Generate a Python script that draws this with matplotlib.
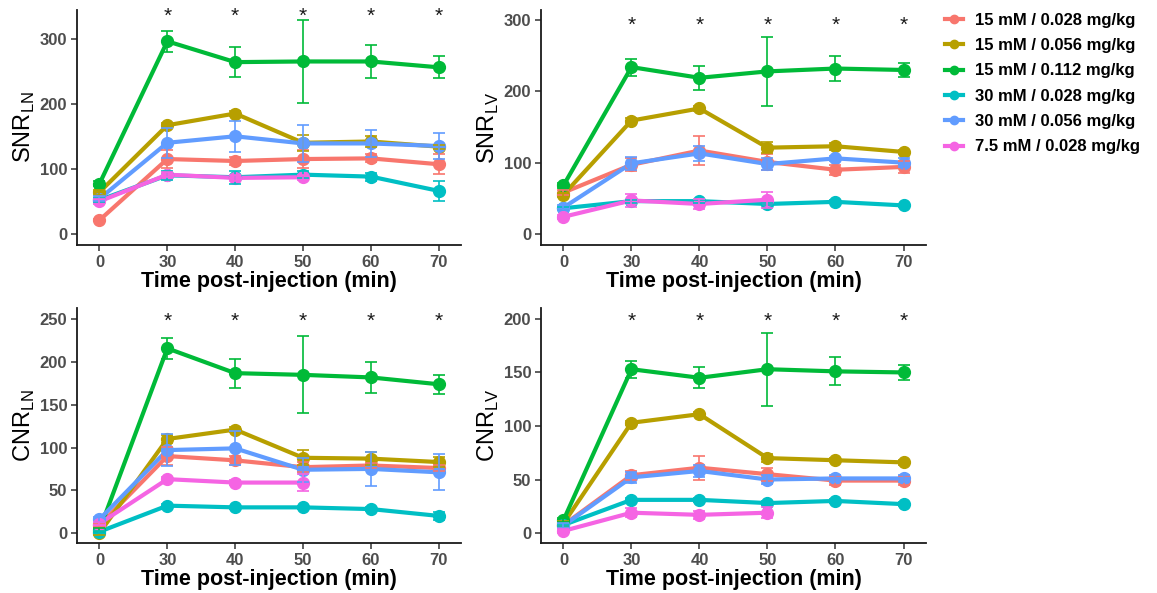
import numpy as np
import matplotlib
matplotlib.use("Agg")
import matplotlib.pyplot as plt
from matplotlib.lines import Line2D

plt.rcParams['font.family'] = ['Liberation Sans', 'DejaVu Sans']
plt.rcParams['mathtext.fontset'] = 'custom'
plt.rcParams['mathtext.rm'] = 'Liberation Sans'

# --- DATA ---
times = ["0", "30", "40", "50", "60", "70"]
groups = ["15 mM / 0.028 mg/kg", "15 mM / 0.056 mg/kg", "15 mM / 0.112 mg/kg",
          "30 mM / 0.028 mg/kg", "30 mM / 0.056 mg/kg", "7.5 mM / 0.028 mg/kg"]
colors = ["#F8766D", "#B79F00", "#00BA38", "#00BFC4", "#619CFF", "#F564E3"]
nan = np.nan

snr_ln_mean = [[21, 115, 112, 115, 116, 107],
               [64, 167, 185, 140, 142, 134],
               [77, 296, 264, 265, 265, 256],
               [52, 90, 87, 91, 88, 66],
               [54, 140, 150, 139, 139, 135],
               [50, 91, 86, 87, nan, nan]]
snr_ln_sd = [[2, 14, 6, 14, 6, 15],
             [4, 4, 4, 12, 8, 3],
             [4, 16, 23, 64, 26, 17],
             [3, 7, 10, 5, 6, 15],
             [4, 23, 24, 29, 21, 20],
             [4, 4, 4, 4, nan, nan]]

snr_lv_mean = [[58, 97, 117, 101, 90, 94],
               [55, 159, 176, 121, 123, 115],
               [68, 234, 219, 228, 232, 230],
               [36, 46, 46, 42, 45, 40],
               [37, 99, 113, 98, 106, 100],
               [24, 47, 42, 48, nan, nan]]
snr_lv_sd = [[3, 9, 21, 11, 7, 8],
             [3, 3, 3, 8, 5, 3],
             [3, 12, 17, 48, 18, 10],
             [2, 2, 2, 2, 2, 2],
             [3, 9, 11, 8, 3, 6],
             [3, 9, 7, 11, nan, nan]]

cnr_ln_mean = [[9, 90, 85, 77, 79, 76],
               [0, 110, 121, 88, 87, 83],
               [3.5, 216, 187, 185, 182, 174],
               [1.5, 32, 30, 30, 28, 20],
               [16, 97, 99, 74, 75, 71],
               [11, 63, 59, 59, nan, nan]]
cnr_ln_sd = [[2, 11, 5, 6, 3, 3],
             [2, 5, 3, 9, 8, 6],
             [2, 12, 17, 45, 18, 11],
             [1, 2, 2, 2, 2, 5],
             [3, 19, 20, 14, 20, 21],
             [2, 3, 3, 10, nan, nan]]

cnr_lv_mean = [[7.5, 54, 61, 55, 49, 49],
               [9, 103, 111, 70, 68, 66],
               [12, 153, 145, 153, 151, 150],
               [7.5, 31, 31, 28, 30, 27],
               [7, 52, 58, 50, 51, 51],
               [2, 19, 17, 19, nan, nan]]
cnr_lv_sd = [[2, 4, 11, 6, 4, 4],
             [2, 2, 2, 4, 2, 2],
             [2, 8, 10, 34, 13, 7],
             [1, 2, 2, 2, 2, 2],
             [2, 5, 6, 4, 3, 3],
             [2, 4, 4, 5, nan, nan]]

panels = [
    (snr_ln_mean, snr_ln_sd, r'SNR$_{\mathrm{LN}}$', (-17, 344), [0, 100, 200, 300], 335),
    (snr_lv_mean, snr_lv_sd, r'SNR$_{\mathrm{LV}}$', (-15.4, 314), [0, 100, 200, 300], 292),
    (cnr_ln_mean, cnr_ln_sd, r'CNR$_{\mathrm{LN}}$', (-11.7, 263), [0, 50, 100, 150, 200, 250], 247.5),
    (cnr_lv_mean, cnr_lv_sd, r'CNR$_{\mathrm{LV}}$', (-9.3, 210), [0, 50, 100, 150, 200], 198),
]

fig = plt.figure(figsize=(11.57, 5.93), dpi=100)
boxes = [(0.0666, 0.587, 0.332, 0.396), (0.4676, 0.587, 0.3327, 0.396),
         (0.0666, 0.0843, 0.332, 0.396), (0.4676, 0.0843, 0.3327, 0.396)]

x = np.arange(len(times))
tick_col = "#4D4D4D"

for box, (mean, sd, ylab, ylim, yticks, star_y) in zip(boxes, panels):
    ax = fig.add_axes(box)
    for m, c in zip(mean, colors):
        ax.plot(x, m, color=c, lw=3, zorder=2, solid_capstyle='round')
    for m, c in zip(mean, colors):
        ax.plot(x, m, 'o', color=c, ms=8.5, zorder=3)
    for m, s, c in zip(mean, sd, colors):
        ax.errorbar(x, m, yerr=s, fmt='none', ecolor=c, elinewidth=1.2,
                    capsize=4, capthick=1.2, zorder=4)
    for xi in x[1:]:
        ax.text(xi, star_y, "*", ha='center', va='center', fontsize=15, color='#1a1a1a')
    ax.set_xlim(-0.33, 5.33)
    ax.set_ylim(*ylim)
    ax.set_xticks(x)
    ax.set_xticklabels(times)
    ax.set_yticks(yticks)
    for lab in ax.get_xticklabels() + ax.get_yticklabels():
        lab.set_fontweight('bold')
        lab.set_fontsize(12)
        lab.set_color(tick_col)
    ax.tick_params(length=4, width=1.1, color='#333333', pad=3)
    for side in ['top', 'right']:
        ax.spines[side].set_visible(False)
    for side in ['left', 'bottom']:
        ax.spines[side].set_linewidth(1.3)
        ax.spines[side].set_color('#1a1a1a')
    ax.set_xlabel("Time post-injection (min)", fontsize=15.5, fontweight='bold', labelpad=1)
    ax.set_ylabel(ylab, fontsize=17, labelpad=2)

handles = [Line2D([0], [0], color=c, lw=3, marker='o', ms=6) for c in colors]
fig.legend(handles, groups, loc='upper left', bbox_to_anchor=(0.8168, 0.9786),
           frameon=False, prop={'weight': 'bold', 'size': 12},
           handlelength=1.1, labelspacing=0.62, handletextpad=0.7,
           borderpad=0, borderaxespad=0)

fig.savefig("out.png", dpi=100)
